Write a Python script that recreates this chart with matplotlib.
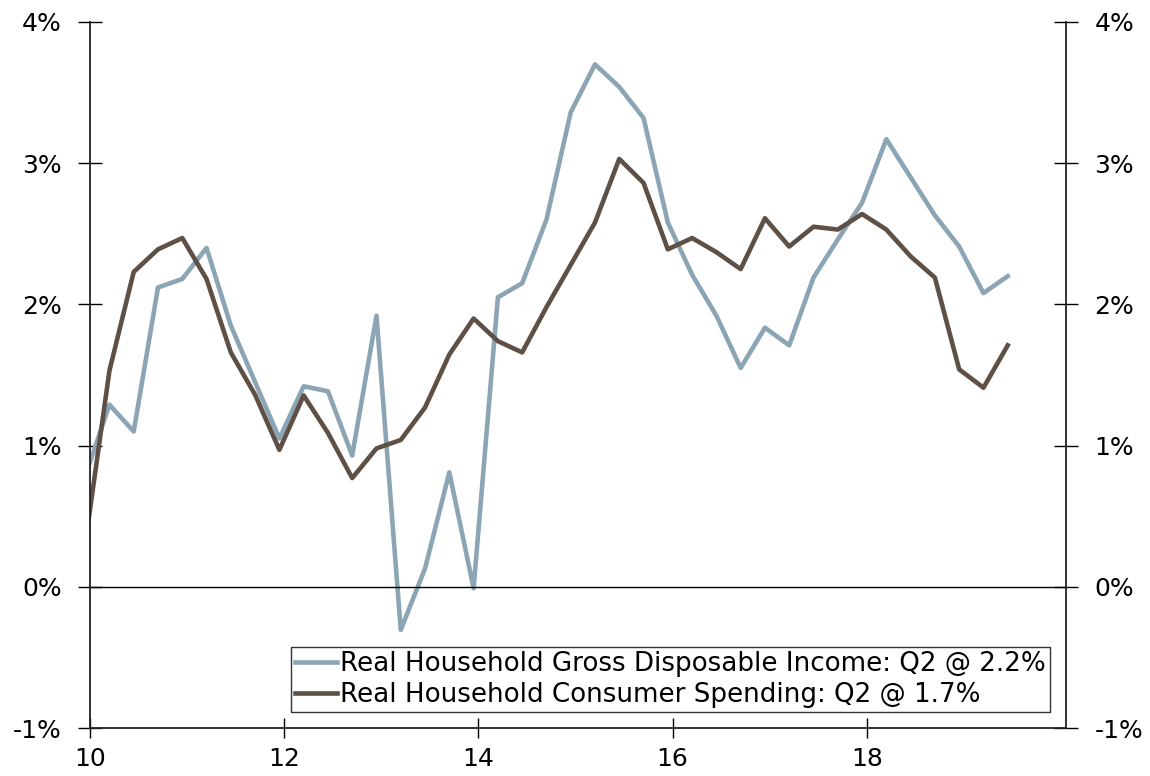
import numpy as np
import matplotlib
matplotlib.use("Agg")
import matplotlib.pyplot as plt
import matplotlib.ticker as mtick

# quarterly, 2009 Q4 .. 2019 Q2, % y/y
income = [0.78, 1.29, 1.10, 2.12, 2.18, 2.40, 1.85, 1.45, 1.05, 1.42,
          1.385, 0.93, 1.92, -0.305, 0.13, 0.81, -0.01, 2.05, 2.15, 2.60,
          3.36, 3.70, 3.54, 3.32, 2.58, 2.21, 1.92, 1.55, 1.835, 1.71,
          2.19, 2.46, 2.72, 3.17, 2.90, 2.63, 2.41, 2.08, 2.20]
spending = [0.30, 1.53, 2.23, 2.39, 2.47, 2.18, 1.66, 1.36, 0.97, 1.355,
            1.09, 0.77, 0.98, 1.04, 1.27, 1.645, 1.90, 1.74, 1.66, 1.98,
            2.28, 2.58, 3.03, 2.86, 2.39, 2.47, 2.37, 2.25, 2.61, 2.41,
            2.55, 2.53, 2.64, 2.53, 2.34, 2.19, 1.54, 1.41, 1.71]
start_year = 9.95
labels = ["Real Household Gross Disposable Income: Q2 @ 2.2%",
          "Real Household Consumer Spending: Q2 @ 1.7%"]

x = start_year + 0.25 * np.arange(len(income))

plt.rcParams["font.family"] = "DejaVu Sans"

fig = plt.figure(figsize=(11.5, 7.76), dpi=100)
ax = fig.add_axes([90/1150, 1 - 728/776, (1066-90)/1150, (728-22)/776])

ax.plot(x, income, color="#8BA5B5", lw=3.3, label=labels[0])
ax.plot(x, spending, color="#5E5045", lw=3.3, label=labels[1])
ax.axhline(0, color="black", lw=1.0)

ax.set_xlim(10, 20.05)
ax.set_ylim(-1, 4)
ax.set_xticks([10, 12, 14, 16, 18])
ax.set_yticks([-1, 0, 1, 2, 3, 4])
ax.yaxis.set_major_formatter(mtick.FuncFormatter(lambda v, p: f"{v:.0f}%"))

for s in ["left", "right", "bottom"]:
    ax.spines[s].set_linewidth(1.3)
    ax.spines[s].set_color("#222222")
ax.spines["top"].set_visible(False)

ax.tick_params(axis="y", direction="inout", length=17, width=1,
               left=True, right=True, labelleft=True, labelright=True,
               labelsize=18, pad=12)
ax.tick_params(axis="x", direction="inout", length=14, width=1,
               labelsize=18, pad=7)

leg = ax.legend(loc="lower right", bbox_to_anchor=(0.9836, 0.0227),
                prop={"size": 18.8}, frameon=True, fancybox=False,
                handlelength=1.6, handletextpad=0.12, borderpad=0.15,
                labelspacing=0.2, borderaxespad=0)
leg.get_frame().set_edgecolor("black")
leg.get_frame().set_linewidth(1.0)

fig.savefig("out.png", dpi=100)
